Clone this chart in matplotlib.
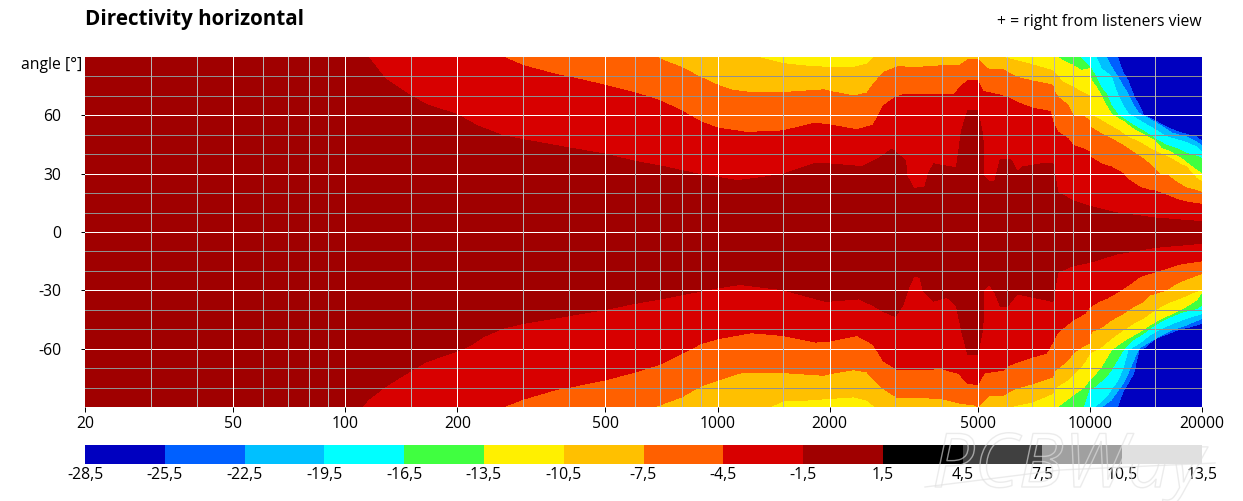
import matplotlib
matplotlib.use('Agg')
import matplotlib.pyplot as plt
import matplotlib.patheffects as pe
from matplotlib.lines import Line2D

plt.rcParams['font.family'] = ['Open Sans', 'DejaVu Sans']

# contour lines, (frequency Hz, angle deg), + side
up_blue = [(20, 90), (11850, 90), (12270, 82), (12650, 77.9), (13100, 70.2), (13540, 65), (13940, 60),
           (15000, 57), (16040, 54), (17060, 51.7), (18350, 50), (19320, 48.8), (20000, 46.6)]
up_sky = [(20, 90), (11060, 90), (11410, 85), (11900, 79.5), (12270, 75), (12650, 71), (13100, 65),
          (13540, 61), (14470, 58), (15550, 54.5), (16540, 51), (18160, 48.8), (19320, 46.3), (20000, 44.2)]
up_cyan = [(20, 90), (10360, 90), (10730, 84), (11060, 82), (11410, 80), (11900, 70), (12270, 65),
           (12650, 61), (13940, 56), (15000, 52.5), (16040, 49), (18160, 46), (19320, 43.7), (20000, 41)]
up_green = [(20, 90), (9380, 90), (9980, 85), (10360, 80), (10730, 74), (11060, 71), (11410, 65),
            (11900, 60), (13050, 55), (13880, 52), (14920, 48), (16040, 44.5), (17060, 43), (18160, 40.5),
            (19320, 39), (20000, 37.7)]
up_yellow = [(20, 90), (8170, 90), (8460, 88), (9000, 85.7), (9480, 83), (9980, 84), (10080, 78),
             (10360, 75), (10730, 70), (11060, 65), (11480, 60), (12270, 57), (13050, 53), (13940, 50),
             (14920, 47), (15550, 43), (16540, 41), (17800, 37), (18930, 33), (20000, 30)]
up_amber = [(20, 90), (1270, 90), (1500, 86.6), (1710, 85.4), (2000, 84.6), (2320, 84.6), (2520, 86.3),
            (2620, 89.4), (2650, 90), (5780, 90), (6370, 88), (7000, 86), (7950, 82.9), (8460, 77),
            (9000, 74.5), (9480, 72), (9980, 70), (10000, 60), (10360, 59), (11060, 55.7), (11900, 52.3),
            (12650, 48.8), (13600, 46), (14470, 43), (15400, 40.3), (16540, 37.7), (17420, 35),
            (18160, 33.4), (19320, 27.5), (20000, 25.7)]
up_orange = [(20, 90), (690, 90), (700, 88.9), (800, 84.6), (900, 79.5), (1000, 75.5), (1095, 72.9),
             (1230, 71.7), (1500, 71.7), (1760, 72.6), (1930, 73.1), (2000, 72.3), (2320, 70), (2520, 71.4),
             (2620, 76), (2790, 82), (3050, 85), (3400, 84.6), (3950, 85.4), (4450, 85.4), (4700, 88.5),
             (5000, 88.5), (5360, 83.4), (5850, 83.4), (6370, 79.5), (7000, 77.7), (7950, 75.5), (8000, 72.8),
             (8200, 69.4), (8730, 65.1), (9000, 60), (9580, 59.6), (9980, 57.4), (10000, 54), (10730, 50.5),
             (11410, 48), (12270, 44.5), (13050, 41), (13880, 37.7), (14920, 32.6), (15400, 29.5),
             (16040, 29.5), (17060, 25.7), (18160, 22.6), (19320, 21.4), (20000, 20.2)]
up_red = [(20, 90), (265, 90), (300, 85.6), (370, 80.9), (400, 79.7), (500, 75.4), (600, 71.6), (700, 67.5),
          (800, 62.3), (900, 56.7), (1000, 53.4), (1200, 51.2), (1500, 52), (1830, 56), (2000, 55), (2370, 52.6),
          (2620, 55), (2790, 64.9), (3000, 69.2), (3200, 70.9), (4310, 70.5), (4520, 75.2), (4700, 77.7),
          (5000, 77.7), (5160, 72.3), (5700, 70.5), (6000, 69.2), (6370, 66.6), (7000, 63.7), (7830, 62),
          (7950, 56.5), (8200, 51.4), (8730, 48), (9000, 44.6), (9580, 42.8), (9980, 41.1), (10000, 38.6),
          (10730, 35), (11410, 33.4), (12270, 30), (12650, 27), (13600, 23), (14470, 21.4), (15000, 21),
          (16040, 18.9), (17060, 16.8), (18160, 15.4), (20000, 14.2)]
up_dark = [(20, 90), (115, 90), (128, 78.8), (150, 69.9), (165, 65.6), (200, 60.3), (225, 54.8), (265, 49.5),
           (300, 47.5), (400, 43.2), (500, 40), (600, 36.3), (700, 34), (900, 29.5), (1130, 26.4), (1317, 28),
           (1500, 29.8), (1816, 35), (2000, 35), (2450, 33.6), (2720, 38), (2940, 42.6), (3200, 36.6),
           (3220, 29), (3360, 22.4), (3600, 23), (3700, 31), (3810, 35), (4380, 33), (4520, 52), (4700, 62.3),
           (5000, 62.3), (5160, 49.5), (5180, 29), (5360, 25.9), (5550, 25.9), (5750, 37.5), (6120, 37.5),
           (6370, 31), (6600, 33.5), (7400, 35), (7950, 35), (8200, 20.4), (9000, 16), (10000, 13.2),
           (11800, 9.8), (15000, 7.2), (20000, 5.3)]

# same contours on the - side
lo_blue = [(20, -90), (11850, -90), (12270, -82), (12650, -77.8), (13100, -72.7), (13540, -60.7), (13940, -59.8),
           (15000, -54.7), (16040, -52.6), (17420, -50), (18350, -49), (20000, -47)]
lo_sky = [(20, -90), (10730, -90), (11410, -86.4), (11900, -81.3), (12270, -77.8), (12650, -72.7), (13100, -65.8),
          (13540, -59.8), (14470, -56.4), (15550, -53), (16540, -50.4), (18160, -47.8), (20000, -44.4)]
lo_cyan = [(20, -90), (10290, -90), (11060, -84.7), (11900, -76), (12270, -70), (12650, -60.7), (13540, -57.3),
           (14470, -53), (15550, -49.6), (16710, -47), (18160, -44.4), (20000, -41.9)]
lo_green = [(20, -90), (9580, -90), (9980, -80.4), (10290, -79.5), (11060, -74.4), (11410, -70.9), (12270, -60.7),
            (13050, -55.5), (13940, -52), (14920, -47.8), (16040, -44.4), (17800, -41), (19320, -39.3),
            (20000, -37.6)]
lo_yellow = [(20, -90), (8170, -90), (8550, -87.2), (9000, -83.8), (9580, -80.4), (9980, -76), (10290, -73.5),
             (10730, -69.3), (11410, -60.7), (11900, -58), (12650, -54.7), (13600, -51.3), (14470, -47.8),
             (15550, -44.4), (16710, -41.9), (17800, -39.3), (19320, -35), (20000, -30.7)]
lo_amber = [(20, -90), (1380, -90), (1500, -86.8), (1710, -86.5), (2000, -85.6), (2320, -84.8), (2520, -86.5),
            (2620, -89), (2650, -90), (6050, -90), (7000, -87.4), (7950, -83), (8000, -80.4), (8730, -76),
            (9380, -70), (9680, -66.7), (9980, -62.4), (10730, -59), (11410, -54.7), (12270, -50.4),
            (13050, -47), (13880, -44.4), (14920, -40.1), (16040, -36.7), (17420, -34.1), (19320, -30.4),
            (20000, -29.9)]
lo_orange = [(20, -90), (670, -90), (700, -88.9), (800, -84.8), (900, -79.3), (1000, -76.2), (1150, -72.5),
             (1500, -72.3), (1760, -73.2), (1930, -73.7), (2000, -72.8), (2320, -70.8), (2520, -72), (2620, -75.4),
             (2790, -80.5), (3050, -85.3), (3400, -85.1), (4000, -85.6), (4450, -87.9), (4900, -89), (5000, -90),
             (5360, -84.3), (5850, -83.9), (6300, -80.5), (7000, -78), (7950, -74.5), (8000, -71.8), (8730, -65.8),
             (9000, -62.4), (9380, -59.8), (9980, -57), (10080, -51.3), (10730, -49), (11410, -45.3),
             (12270, -41.9), (13050, -38.4), (13880, -35.9), (14470, -32.4), (16040, -29.9), (17060, -26.4),
             (18350, -23.9), (20000, -21.3)]
lo_red = [(20, -90), (265, -90), (300, -86), (370, -80.9), (400, -79.8), (500, -76), (600, -72), (700, -68),
          (800, -62.6), (900, -57.4), (1000, -54.9), (1230, -51.8), (1500, -53.2), (1830, -56.6), (2000, -56.1),
          (2370, -53.2), (2620, -57.8), (2790, -66.3), (3050, -70.8), (3400, -70.8), (4000, -70.3), (4450, -72.8),
          (4700, -78), (5000, -78.3), (5200, -72.5), (5850, -71), (6050, -68.5), (7000, -64.3), (7630, -62.4),
          (7950, -56.4), (8170, -51.8), (8760, -47), (9000, -45.3), (9680, -41.9), (10000, -38.4), (10620, -35.5),
          (11060, -34.2), (11900, -30.7), (13050, -25.6), (13600, -23), (14470, -21.3), (16040, -18.7),
          (17420, -16.5), (20000, -14.8)]
lo_dark = [(20, -90), (111, -90), (115, -86.3), (128, -79.5), (150, -71.3), (165, -66.7), (200, -61.2), (216, -58.4),
           (235, -53.8), (265, -49.5), (300, -47), (400, -43), (500, -39.8), (600, -36.7), (700, -34.5), (1000, -28.7),
           (1150, -27), (1500, -29.7), (1950, -35.7), (2400, -34.4), (2620, -37.8), (2790, -40.9), (3000, -43.4),
           (3150, -37.3), (3250, -29.2), (3360, -22.9), (3500, -23.2), (3560, -30), (3810, -35.5), (4130, -33.5),
           (4380, -37.8), (4520, -50.6), (4700, -62.9), (5000, -62.9), (5160, -48.9), (5180, -29.7), (5360, -26.7),
           (5550, -30.9), (5750, -38.3), (6000, -38.3), (6370, -31.8), (7000, -33.5), (7950, -35.7), (8200, -20.7),
           (9000, -17.3), (10000, -15.6), (11800, -11.3), (15000, -7.9), (20000, -5.8)]

contours = [
    (up_blue, lo_blue, '#0060ff'),
    (up_sky, lo_sky, '#00c0ff'),
    (up_cyan, lo_cyan, '#00ffff'),
    (up_green, lo_green, '#40ff40'),
    (up_yellow, lo_yellow, '#fff000'),
    (up_amber, lo_amber, '#ffc000'),
    (up_orange, lo_orange, '#ff6000'),
    (up_red, lo_red, '#d80000'),
    (up_dark, lo_dark, '#a00000'),
]

freq_ticks = [20, 50, 100, 200, 500, 1000, 2000, 5000, 10000, 20000]
freq_minor = [30, 40, 60, 70, 80, 90, 150, 300, 400, 600, 700, 800, 900, 1500, 3000, 4000, 6000, 7000, 8000, 9000, 15000]
angle_ticks = [60, 30, 0, -30, -60]
angle_minor = [80, 70, 50, 40, 20, 10, -10, -20, -40, -50, -70, -80]

bar_levels = [-28.5, -25.5, -22.5, -19.5, -16.5, -13.5, -10.5, -7.5, -4.5, -1.5, 1.5, 4.5, 7.5, 10.5, 13.5]
bar_colors = ['#0000c0', '#0060ff', '#00c0ff', '#00ffff', '#40ff40', '#fff000', '#ffc000', '#ff6000',
              '#d80000', '#a00000', '#000000', '#404040', '#a0a0a0', '#e0e0e0']

W, H = 1243, 501
TXT = 11.3
fig = plt.figure(figsize=(W / 100, H / 100), dpi=100)
ax = fig.add_axes([85 / W, 1 - 407 / H, 1117 / W, 350 / H])

ax.set_xscale('log')
ax.set_facecolor('#0000c0')
for up, lo, col in contours:
    pts = up + lo[::-1]
    ax.fill([p[0] for p in pts], [p[1] for p in pts], color=col, lw=0, antialiased=False, zorder=1)

for a in angle_minor:
    ax.axhline(a, color='#909090', lw=0.72, zorder=2)
for a in angle_ticks:
    ax.axhline(a, color='white', lw=0.72, zorder=2)
for f in freq_minor:
    ax.axvline(f, color='#b4b4b4', lw=0.72, zorder=3)
for f in freq_ticks[1:-1]:
    ax.axvline(f, color='white', lw=0.72, zorder=3)

ax.set_xlim(20, 20000)
ax.set_ylim(-90, 90)
ax.set_xticks(freq_ticks, [str(f) for f in freq_ticks])
ax.xaxis.set_minor_locator(plt.NullLocator())
ax.set_yticks(angle_ticks, [str(a) for a in angle_ticks])
ax.tick_params(axis='x', length=3.5, width=0.72, labelsize=TXT, pad=3)
ax.tick_params(axis='y', length=3, width=0.72, labelsize=TXT, pad=14)
for s in ax.spines.values():
    s.set_visible(False)

fig.text(85 / W, 1 - 19.5 / H, 'Directivity horizontal', fontsize=14.9, fontweight='bold', ha='left', va='center')
fig.text(1202 / W, 1 - 22.5 / H, '+ = right from listeners view', fontsize=TXT, ha='right', va='center')
fig.text(82 / W, 1 - 65 / H, 'angle [°]', fontsize=TXT, ha='right', va='center')

# colour scale under the plot
cax = fig.add_axes([85 / W, 1 - 464 / H, 1117 / W, 19 / H])
cax.bar(bar_levels[:-1], 1, width=3, align='edge', color=bar_colors)
cax.set_xlim(bar_levels[0], bar_levels[-1])
cax.set_ylim(0, 1)
cax.set_yticks([])
cax.set_xticks(bar_levels, [f'{v:.1f}'.replace('.', ',') for v in bar_levels])
cax.tick_params(axis='x', length=0, labelsize=TXT, pad=2.5)
for s in cax.spines.values():
    s.set_visible(False)

# faint watermark
fig.text(932 / W, 1 - 487 / H, 'PCBWay', fontsize=54, fontstyle='italic', color='none', ha='left', va='baseline',
         path_effects=[pe.withStroke(linewidth=1.0, foreground='#e0e0e0a0')], zorder=5)
fig.add_artist(Line2D([925 / W, 1060 / W, 1215 / W], [1 - 487 / H, 1 - 470 / H, 1 - 463 / H], color='#e0e0e0a0', lw=1.0))

fig.savefig('out.png', dpi=100)
